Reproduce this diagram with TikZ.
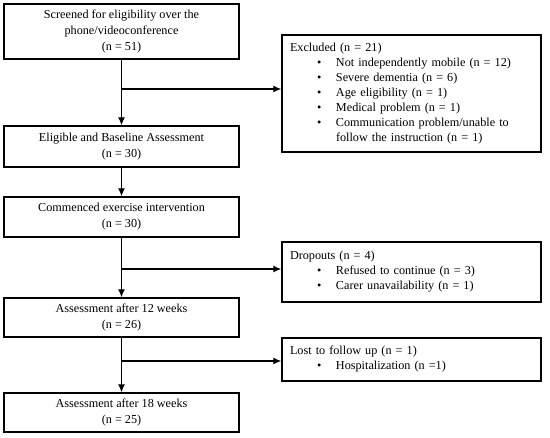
\documentclass[tikz,border=0pt]{standalone}
\usepackage{fontspec}
\setmainfont{Liberation Serif}
\usetikzlibrary{positioning,arrows.meta}
\newcommand{\bul}[1]{\hspace*{27pt}\makebox[19pt][l]{\textbullet}#1}
\begin{document}
\begin{tikzpicture}[x=1pt, y=-1pt, line width=1.3pt,
  stage/.style = {draw, rectangle, minimum width=235pt, inner sep=0pt, align=center, font=\fontsize{12.2}{16}\selectfont},
  side/.style = {draw, rectangle, minimum width=259pt, text width=243pt, inner xsep=8pt, inner ysep=0pt, align=left, font=\fontsize{12.2}{15}\selectfont},
  flow/.style = {-{Latex[length=8pt,width=7pt]}}]
\useasboundingbox (0,0) rectangle (550,438);
% main flow
\node[stage, minimum height=55pt] (screen) at (121.5,31.5) {Screened for eligibility over the\\phone/videoconference\\(n = 51)};
\node[stage, minimum height=41pt] (base) at (121.5,146.5) {Eligible and Baseline Assessment\\(n = 30)};
\node[stage, minimum height=40pt] (start) at (121.5,217) {Commenced exercise intervention\\(n = 30)};
\node[stage, minimum height=39pt] (wk12) at (121.5,317.5) {Assessment after 12 weeks\\(n = 26)};
\node[stage, minimum height=39pt] (wk18) at (121.5,412.5) {Assessment after 18 weeks\\(n = 25)};
% side boxes
\node[side, minimum height=117pt] (excl) at (411.5,93.5) {Excluded (n = 21)\\
  \bul{Not independently mobile (n = 12)}\\
  \bul{Severe dementia (n = 6)}\\
  \bul{Age eligibility (n = 1)}\\
  \bul{Medical problem (n = 1)}\\
  \bul{Communication problem/unable to}\\
  \hspace*{46pt}follow the instruction (n = 1)};
\node[side, minimum height=60pt] (drop) at (411.5,272) {Dropouts (n = 4)\\
  \bul{Refused to continue (n = 3)}\\
  \bul{Carer unavailability (n = 1)}};
\node[side, minimum height=43pt] (lost) at (411.5,359.5) {Lost to follow up (n = 1)\\
  \bul{Hospitalization (n =1)}};
% branch points
\coordinate (b1) at (121.5,89);
\coordinate (b2) at (121.5,269);
\coordinate (b3) at (121.5,361);
\draw[flow] (screen) -- (base);
\draw[flow] (base) -- (start);
\draw[flow] (start) -- (wk12);
\draw[flow] (wk12) -- (wk18);
\draw[flow] (b1) -- (b1 -| excl.west);
\draw[flow] (b2) -- (b2 -| drop.west);
\draw[flow] (b3) -- (b3 -| lost.west);
\end{tikzpicture}
\end{document}
